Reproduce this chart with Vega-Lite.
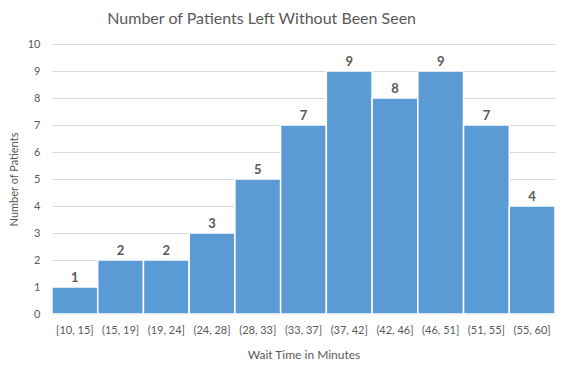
{
  "$schema": "https://vega.github.io/schema/vega-lite/v6.json",
  "autosize": "none",
  "width": 503,
  "height": 270,
  "padding": {"left": 52, "top": 44, "right": 10, "bottom": 54},
  "background": "white",
  "title": {
    "text": "Number of Patients Left Without Been Seen",
    "font": "Lato",
    "fontSize": 16,
    "fontWeight": "normal",
    "color": "#595959",
    "anchor": "start",
    "dx": 99,
    "offset": 11
  },
  "config": {
    "view": {"stroke": null},
    "font": "Lato"
  },
  "data": {
    "values": [
      {"bin": "[10, 15]", "count": 1},
      {"bin": "(15, 19]", "count": 2},
      {"bin": "(19, 24]", "count": 2},
      {"bin": "(24, 28]", "count": 3},
      {"bin": "(28, 33]", "count": 5},
      {"bin": "(33, 37]", "count": 7},
      {"bin": "(37, 42]", "count": 9},
      {"bin": "(42, 46]", "count": 8},
      {"bin": "(46, 51]", "count": 9},
      {"bin": "(51, 55]", "count": 7},
      {"bin": "(55, 60]", "count": 4}
    ]
  },
  "encoding": {
    "x": {
      "field": "bin",
      "type": "nominal",
      "sort": null,
      "scale": {"paddingInner": 0, "paddingOuter": 0},
      "axis": {
        "title": "Wait Time in Minutes",
        "titleFont": "Lato",
        "titleFontSize": 12,
        "titleFontWeight": "normal",
        "titleColor": "#595959",
        "titlePadding": 14,
        "labelAngle": 0,
        "labelFont": "Lato",
        "labelFontSize": 11,
        "labelColor": "#595959",
        "labelPadding": 10,
        "ticks": false,
        "domainColor": "#D9D9D9",
        "grid": false
      }
    },
    "y": {
      "field": "count",
      "type": "quantitative",
      "scale": {"domain": [0, 10], "nice": false},
      "axis": {
        "title": "Number of Patients",
        "titleFont": "Lato",
        "titleFontSize": 11,
        "titleFontWeight": "normal",
        "titleColor": "#595959",
        "titlePadding": 8,
        "values": [0,1,2,3,4,5,6,7,8,9,10],
        "labelFont": "Lato",
        "labelFontSize": 11,
        "labelColor": "#595959",
        "labelPadding": 12,
        "ticks": false,
        "domain": false,
        "grid": true,
        "gridColor": "#D9D9D9",
        "gridWidth": 1
      }
    }
  },
  "layer": [
    {
      "mark": {"type": "bar", "color": "#5B9BD5", "stroke": "white", "strokeWidth": 1.5}
    },
    {
      "mark": {"type": "text", "dy": -9, "fontWeight": "bold", "fontSize": 13, "color": "#595959", "font": "Lato"},
      "encoding": {"text": {"field": "count", "type": "quantitative"}}
    }
  ]
}
